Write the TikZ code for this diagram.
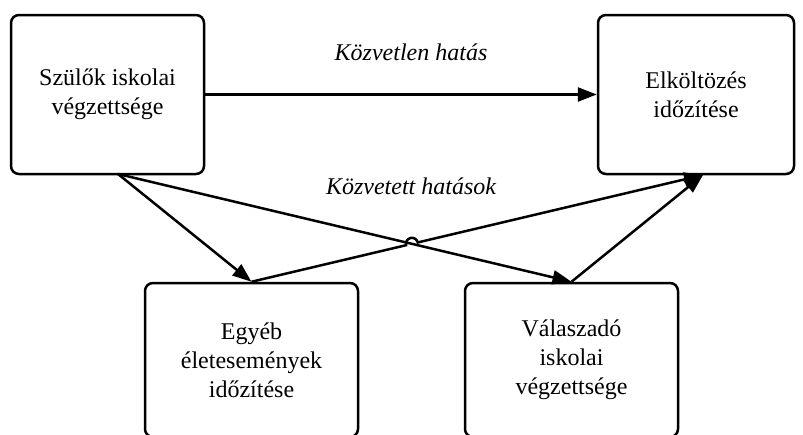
\documentclass[tikz,border=0pt]{standalone}
\usepackage{fontspec}
\setmainfont{Liberation Serif}
\usetikzlibrary{arrows.meta,calc}
\begin{document}
\begin{tikzpicture}[x=1pt,y=-1pt,
  box/.style={draw,line width=2.5pt,rounded corners=8pt,align=center,
    font=\fontsize{24}{29}\selectfont,inner sep=0pt},
  arr/.style={line width=2.5pt,-{Triangle[length=19pt,width=14pt]}},
  lbl/.style={font=\fontsize{24}{29}\selectfont\itshape}]
\useasboundingbox (0,0) rectangle (803,434);
\node[box,minimum width=193pt,minimum height=159pt] (A) at (107.5,94.5) {Szülők iskolai\\végzettsége};
\node[box,minimum width=196pt,minimum height=159pt] (B) at (696,94.5) {Elköltözés\\időzítése};
\node[box,minimum width=213pt,minimum height=154pt] (C) at (251.5,360) {Egyéb\\életesemények\\időzítése};
\node[box,minimum width=213pt,minimum height=154pt] (D) at (571.5,360) {Válaszadó\\iskolai\\végzettsége};
\coordinate (a1) at (118,174);
\coordinate (b2) at (703,175);
\node[lbl] (l1) at (411,52) {Közvetlen hatás};
\node[lbl] (l2) at (411,186) {Közvetett hatások};
\draw[arr] (A.east) -- (B.west);
\draw[arr] (a1) -- (C.north);
\draw[arr] (a1) -- (D.north);
\coordinate (X) at (intersection of a1--D.north and C.north--b2);
\draw[arr] let \p1=($(b2)-(C.north)$), \n1={atan2(\y1,\x1)} in
  (C.north) -- ($(X)!6pt!(C.north)$) arc[start angle=\n1+180,end angle=\n1,radius=6pt] -- (b2);
\draw[arr] (D.north) -- (b2);
\end{tikzpicture}
\end{document}
